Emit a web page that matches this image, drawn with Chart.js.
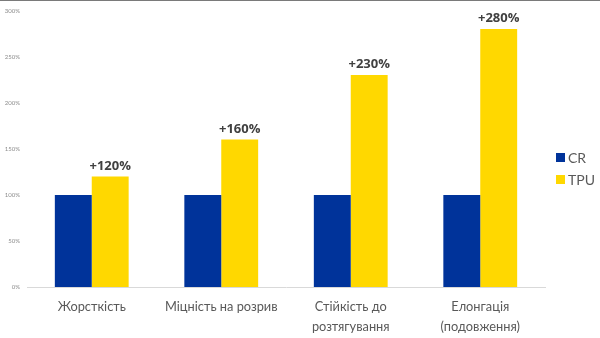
<!DOCTYPE html>
<html>
<head>
<meta charset="utf-8">
<script src="https://cdn.jsdelivr.net/npm/chart.js@4"></script>
<style>
  html,body{margin:0;padding:0;background:#fff;}
  body{width:600px;height:338px;overflow:hidden;position:relative;}
  #topline{position:absolute;left:0;top:0;width:600px;height:1px;background:#7a7a7a;}
  #wrap{position:absolute;left:0;top:0;width:600px;height:338px;}
</style>
</head>
<body>
<div id="wrap"><canvas id="chart" width="600" height="338"></canvas></div>
<div id="topline"></div>
<script>
// chart data
const categories = [["Жорсткість"], ["Міцність на розрив"], ["Стійкість до", "розтягування"], ["Елонгація", "(подовження)"]];
const crValues = [100, 100, 100, 100];
const tpuValues = [120, 160, 230, 280];
const tpuLabels = ["+120%", "+160%", "+230%", "+280%"];
const yTicks = [0, 50, 100, 150, 200, 250, 300];

const FONT = "Lato, 'Open Sans', sans-serif";

// labels above TPU bars
const barLabels = {
  id: "barLabels",
  afterDatasetsDraw(chart){
    const ctx = chart.ctx;
    const meta = chart.getDatasetMeta(1);
    ctx.save();
    ctx.font = "bold 13px 'Open Sans', sans-serif";
    ctx.fillStyle = "#404040";
    ctx.textAlign = "center";
    ctx.textBaseline = "bottom";
    meta.data.forEach((bar, i)=>{
      ctx.fillText(tpuLabels[i], bar.x, bar.y - 4);
    });
    ctx.restore();
  }
};

// simple legend on the right
const sideLegend = {
  id: "sideLegend",
  afterDraw(chart){
    const ctx = chart.ctx;
    ctx.save();
    ctx.font = "14px " + FONT;
    ctx.textBaseline = "middle";
    chart.data.datasets.forEach((ds, i)=>{
      const y = 158 + i*22;
      ctx.fillStyle = ds.backgroundColor;
      ctx.fillRect(556, y-5, 9, 9);
      ctx.fillStyle = "#595959";
      ctx.fillText(ds.label, 568, y);
    });
    ctx.restore();
  }
};

new Chart(document.getElementById("chart").getContext("2d"), {
  type: "bar",
  data: {
    labels: categories,
    datasets: [
      { label: "CR", data: crValues, backgroundColor: "#00339A", categoryPercentage: 0.57, barPercentage: 1 },
      { label: "TPU", data: tpuValues, backgroundColor: "#FFD800", categoryPercentage: 0.57, barPercentage: 1 }
    ]
  },
  options: {
    responsive: false,
    animation: false,
    layout: { padding: { top: 3, right: 55, left: 0, bottom: 0 } },
    plugins: { legend: { display: false }, tooltip: { enabled: false } },
    scales: {
      x: {
        grid: { display: false },
        border: { color: "#d9d9d9" },
        ticks: { color: "#595959", font: { family: FONT, size: 12.8, lineHeight: 1.56 }, padding: 1.5, maxRotation: 0 }
      },
      y: {
        min: 0, max: 300,
        afterBuildTicks(axis){ axis.ticks = yTicks.map(v=>({ value: v })); },
        afterFit(axis){ axis.width = 27; },
        grid: { display: false, drawTicks: false },
        border: { display: false },
        ticks: { color: "#8c8c8c", font: { family: FONT, size: 6 }, padding: 7, callback: v => v + "%" }
      }
    }
  },
  plugins: [barLabels, sideLegend]
});
</script>
</body>
</html>
